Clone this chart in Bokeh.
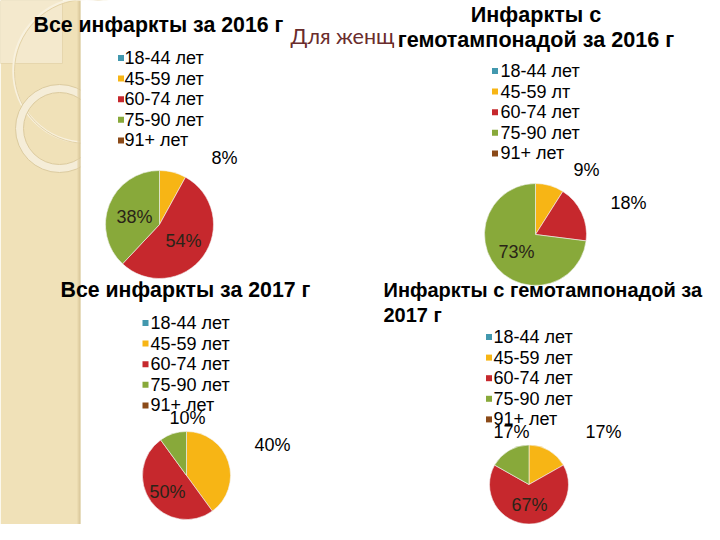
import math
from bokeh.plotting import figure
from bokeh.models import Range1d
from bokeh.embed import file_html
from bokeh.resources import INLINE
from bokeh.core.properties import value

# ---------------- data ----------------
age_groups = ["18-44 лет", "45-59 лет", "60-74 лет", "75-90 лет", "91+ лет"]
age_groups_typo = ["18-44 лет", "45-59 лт", "60-74 лет", "75-90 лет", "91+ лет"]

all_2016 = [0, 8, 54, 38, 0]
hemo_2016 = [0, 9, 18, 73, 0]
all_2017 = [0, 40, 50, 10, 0]
hemo_2017 = [0, 17, 67, 17, 0]

title_all_2016 = ["Все инфаркты за 2016 г"]
title_hemo_2016 = ["Инфаркты с", "гемотампонадой за 2016 г"]
title_all_2017 = ["Все инфаркты за 2017 г"]
title_hemo_2017 = ["Инфаркты с гемотампонадой за", "2017 г"]
slide_heading = "Для женщин"

# ---------------- styles / layout ----------------
COLORS = ["#4298ae", "#f7b515", "#c6282d", "#88a93a", "#8b4a18"]
FONT = value("Liberation Sans")

W, H = 704, 524
p = figure(width=W, height=H, x_range=Range1d(0, W), y_range=Range1d(0, H),
           output_backend="svg", toolbar_location=None, min_border=0)
p.axis.visible = False
p.grid.visible = False
p.outline_line_color = None
p.background_fill_color = "white"
p.border_fill_color = "white"


def Y(yr):
    return H - yr


# ---------------- background: beige strip ----------------
p.quad(left=[0], right=[80], bottom=[Y(540)], top=[Y(0)], fill_color="#f0e1b8", line_color=None)
p.quad(left=[0], right=[62], bottom=[Y(63)], top=[Y(0)], fill_color="#f4e9cd",
       line_color="#e6d6ad", line_width=1)
p.circle(x=[85], y=[Y(70)], radius=72, fill_color=None, line_color="#f8f1de", line_width=2.5)
p.circle(x=[86], y=[Y(71)], radius=72, fill_color=None, line_color="#e2d1a6", line_width=1)
p.annulus(x=[59], y=[Y(128)], inner_radius=36, outer_radius=44,
          fill_color="#f5edd8", line_color="#dccb9f", line_width=1)
p.quad(left=[80], right=[W], bottom=[Y(540)], top=[Y(0)], fill_color="white", line_color=None)
for dx, c in [(77.5, "#e6d5aa"), (78.5, "#ddcb9d"), (79.5, "#d3c192")]:
    p.segment(x0=[dx], y0=[Y(0)], x1=[dx], y1=[Y(540)], line_color=c, line_width=1)

# ---------------- heading ----------------
p.text(x=[290], y=[Y(35)], text=[slide_heading], text_font=value("Lato"), text_font_size="21.5px",
       text_color="#6a2c2c", text_baseline="middle")


def draw_title(lines, x, mids, align, size):
    for ln, m in zip(lines, mids):
        p.text(x=[x], y=[Y(m)], text=[ln], text_font=FONT, text_font_size=size,
               text_font_style="bold", text_color="black", text_align=align,
               text_baseline="middle")


def draw_legend(labels, mx, tx, first_mid, step=20.6):
    for i, (lab, col) in enumerate(zip(labels, COLORS)):
        m = first_mid + i * step
        p.scatter(x=[mx], y=[Y(m)], marker="square", size=6, fill_color=col, line_color=None)
        p.text(x=[tx], y=[Y(m)], text=[lab], text_font=FONT, text_font_size="18px",
               text_color="black", text_baseline="middle")


def draw_pie(vals, cx, cy, r, label_pos):
    total = float(sum(vals))
    cum = 0.0
    starts, ends, cols = [], [], []
    for v, col in zip(vals, COLORS):
        c0 = cum / total
        cum += v
        c1 = cum / total
        if v > 0:
            starts.append(math.pi / 2 - 2 * math.pi * c1)
            ends.append(math.pi / 2 - 2 * math.pi * c0)
            cols.append(col)
    n = len(starts)
    p.wedge(x=[cx] * n, y=[Y(cy)] * n, radius=r, start_angle=starts, end_angle=ends,
            fill_color=cols, line_color="#f4f4f4", line_width=0.6)
    k = 0
    for v in vals:
        if v > 0:
            lx, ly, inside = label_pos[k]
            p.text(x=[lx], y=[Y(ly)], text=[f"{v}%"], text_font=FONT, text_font_size="18px",
                   text_color="#2a2418" if inside else "black", text_align="center",
                   text_baseline="middle")
            k += 1


# chart 1: all 2016
draw_title(title_all_2016, 33, [24.5], "left", "21.3px")
draw_legend(age_groups, 120.5, 124, 57.5)
draw_pie(all_2016, 159, 224, 54, [(224, 157, False), (183, 240, True), (134, 216, True)])

# chart 2: hemotamponade 2016
p.quad(left=[394], right=[W], bottom=[Y(49)], top=[Y(26)], fill_color="white", line_color=None)
draw_title(title_hemo_2016, 535.5, [13.5, 38.5], "center", "21.6px")
draw_legend(age_groups_typo, 494.5, 500, 70.5)
draw_pie(hemo_2016, 535, 234, 51, [(586, 169, False), (628, 202, False), (516, 251, True)])

# chart 3: all 2017
draw_title(title_all_2017, 60, [289], "left", "21.3px")
draw_legend(age_groups, 145, 150, 322.5)
draw_pie(all_2017, 186, 475, 44, [(272, 444, False), (167, 491, True), (187, 417, False)])

# chart 4: hemotamponade 2017
draw_title(title_hemo_2017, 383, [289.5, 314.5], "left", "20px")
draw_legend(age_groups, 488.5, 493, 336.5)
draw_pie(hemo_2017, 528.5, 484, 39.5, [(603, 431, False), (529, 504, True), (511, 431, False)])

open("out.html", "w").write(file_html(p, INLINE))
